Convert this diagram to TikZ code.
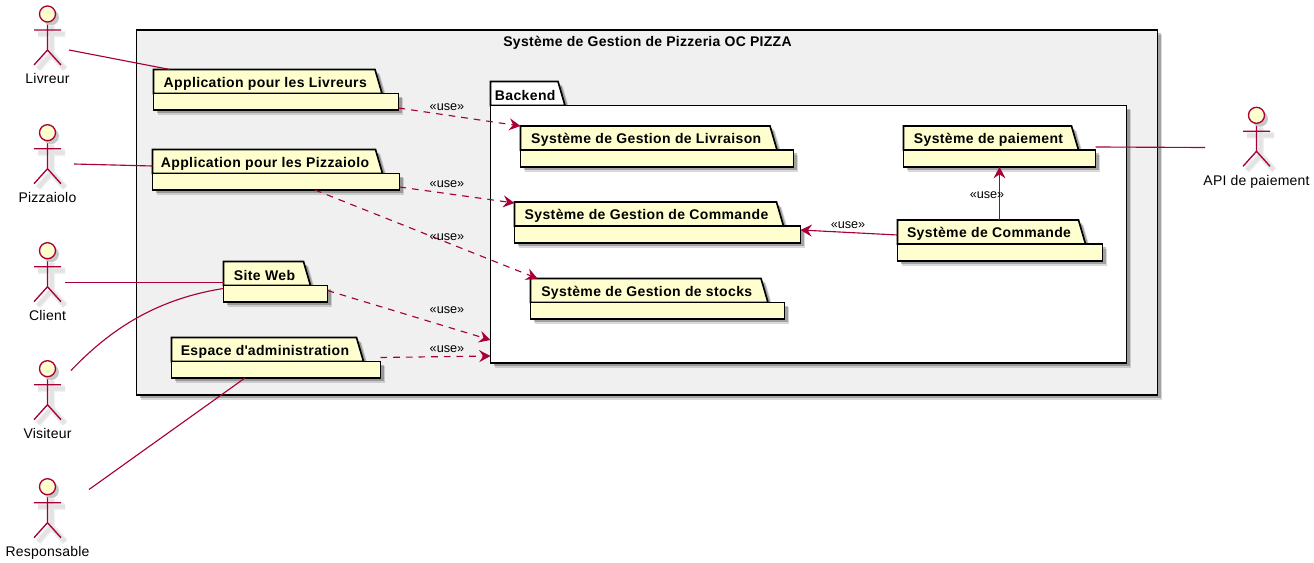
\documentclass[tikz,border=0pt]{standalone}
\usepackage{fontspec}
\setmainfont{Liberation Sans}
\usetikzlibrary{arrows.meta,shadows}
\definecolor{umlred}{HTML}{A80036}
\definecolor{umlyellow}{HTML}{FEFECE}
\definecolor{umlgrey}{HTML}{F0F0F0}
\tikzset{
    softshadow/.style={general shadow={shadow xshift=3.6pt,shadow yshift=-3.6pt,fill=black,opacity=.15},general shadow={shadow xshift=2.6pt,shadow yshift=-2.6pt,fill=black,opacity=.25}},
    pkgshape/.style={draw=black,line width=1.25pt,fill=#1,softshadow,line join=miter,outer sep=0pt},
    pkgshape/.default=umlyellow,
    pkgtab/.style={inner sep=0pt,outer sep=0pt,font=\fontsize{10.5}{12}\bfseries\addfontfeature{LetterSpace=2.7}},
    actorline/.style={draw=umlred,line width=1pt},
    actorshadow/.style={draw=black!11,line width=3pt,preaction={draw=black!6,line width=5pt}},
    actorname/.style={inner sep=0pt,anchor=base,font=\fontsize{10.5}{12}\selectfont\addfontfeature{LetterSpace=1.5}},
    uselabel/.style={inner sep=0pt,font=\fontsize{9.5}{11}\selectfont},
    uselink/.style={draw=umlred,line width=.85pt,-{Stealth[length=8.5pt,width=9pt,inset=3pt]}},
    dashedlink/.style={uselink,dash pattern=on 5pt off 4.5pt},
    assoc/.style={draw=umlred,line width=.85pt}
}
\newcommand{\package}[8][umlyellow]{%
    \path[pkgshape=#1] (#3,#4) -- (#5,#4) -- (#5+7,#4+24) -- (#3,#4+24) -- cycle;
    \node[pkgshape=#1,inner sep=0pt,anchor=north west,minimum width={(#6-#3)*0.75pt},minimum height={(#7-#4-24)*0.75pt}] (#2) at (#3,#4+24) {};
    \node[pkgtab,minimum width={(#5-#3+2)*0.75pt},minimum height=19.5pt,anchor=north west] (#2Tab) at (#3,#4+1) {#8};
}
\newcommand{\actor}[4]{%
    \draw[actorshadow] (#2+4,#3+12) -- (#2+4,#3+40) (#2-9.5,#3+20) -- (#2+17.5,#3+20) (#2-9.5,#3+55) -- (#2+4,#3+40) -- (#2+17.5,#3+55);
    \draw[actorline] (#2,#3+8) -- (#2,#3+36) (#2-13.5,#3+16) -- (#2+13.5,#3+16) (#2-13.5,#3+51) -- (#2,#3+36) -- (#2+13.5,#3+51);
    \node[draw=umlred,line width=1pt,fill=umlyellow,circle,minimum size=12pt,inner sep=0pt,outer sep=0pt,general shadow={shadow xshift=2.6pt,shadow yshift=-2.6pt,fill=black!22}] (#1) at (#2,#3) {};
    \node[actorname] (#1Label) at (#2,#3+70) {#4};
}
\begin{document}
\begin{tikzpicture}[x=0.75pt,y=-0.75pt]
    \useasboundingbox (0,0) rectangle (1314,563);

    \node[pkgshape=umlgrey,inner sep=0pt,anchor=north west,minimum width=765.75pt,minimum height=273.75pt] (gestion) at (136.5,30) {};
    \node[inner sep=0pt,font=\fontsize{10.5}{12}\bfseries\addfontfeature{LetterSpace=2}] (gestionTitle) at (647.5,43) {Système de Gestion de Pizzeria OC PIZZA};

    \package[white]{backend}{490.5}{81.5}{558}{1126.5}{363}{Backend}

    \actor{livreur}{47.5}{14}{Livreur}
    \actor{pizzaiolo}{47.5}{132.7}{Pizzaiolo}
    \actor{client}{47.5}{250.7}{Client}
    \actor{visiteur}{47.5}{368.7}{Visiteur}
    \actor{responsable}{47.5}{486.7}{Responsable}
    \actor{api}{1256.5}{115.3}{API de paiement}

    \coordinate (livreurEnd) at (69,50);
    \coordinate (pizzaioloEnd) at (74,164);
    \coordinate (clientEnd) at (65,282.5);
    \coordinate (visiteurEnd) at (71,370.5);
    \coordinate (responsableEnd) at (89,489.5);
    \coordinate (apiEnd) at (1205,147.5);

    \package{appLivreurs}{153.5}{69.5}{375}{398.5}{110}{Application pour les Livreurs}
    \package{appPizzaiolo}{152.5}{149.5}{375.5}{399.5}{190}{Application pour les Pizzaiolo}
    \package{siteWeb}{223.5}{261.5}{303.5}{327.5}{302}{Site Web}
    \package{espaceAdmin}{171.5}{337.5}{356.5}{380.5}{378}{Espace d\textquotesingle administration}
    \package{livraison}{520.5}{126}{770}{793.5}{167}{Système de Gestion de Livraison}
    \package{gestCommande}{514.5}{202}{776.5}{800.5}{243}{Système de Gestion de Commande}
    \package{stocks}{530.5}{278.5}{761}{784.5}{319}{Système de Gestion de stocks}
    \package{paiement}{903.5}{126}{1071.5}{1095.5}{167}{Système de paiement}
    \package{commande}{897.5}{220}{1078.5}{1102.5}{261}{Système de Commande}

    \draw[assoc] (livreurEnd) -- ([shift={(16.5,-1)}]appLivreursTab.north west);
    \draw[assoc] (pizzaioloEnd) -- ([shift={(0,15.5)}]appPizzaioloTab.north west);
    \draw[assoc] (clientEnd) -- ([shift={(0,20)}]siteWebTab.north west);
    \draw[assoc] (visiteurEnd) .. controls (105,335) and (150,300) .. ([shift={(0,3)}]siteWeb.north west);
    \draw[assoc] (responsableEnd) -- ([shift={(73.5,0)}]espaceAdmin.south west);
    \draw[assoc] ([shift={(0,-3)}]paiement.north east) -- (apiEnd);

    \draw[dashedlink] ([shift={(0,-2)}]appLivreurs.south east) -- ([shift={(0,-1)}]livraisonTab.north west);
    \draw[dashedlink] ([shift={(0,-3)}]appPizzaiolo.south east) -- (gestCommandeTab.north west);
    \draw[dashedlink] ([shift={(162.5,0)}]appPizzaiolo.south west) -- ([shift={(7,-1)}]stocksTab.north west);
    \draw[dashedlink] ([shift={(0,5)}]siteWeb.north east) -- ([shift={(0,-23)}]backend.south west);
    \draw[dashedlink] ([shift={(0,-4)}]espaceAdmin.north east) -- ([shift={(0,-7)}]backend.south west);
    \draw[uselink] ([shift={(0,14)}]commandeTab.north west) -- ([shift={(0,4)}]gestCommande.north east);
    \draw[uselink] ([shift={(102,-1)}]commandeTab.north west) -- ([shift={(96,0)}]paiement.south west);

    \node[uselabel] (useLivraison) at (447,107) {«use»};
    \node[uselabel] (useCommande) at (447,184.5) {«use»};
    \node[uselabel] (useStocks) at (447,237.5) {«use»};
    \node[uselabel] (useSite) at (447,310) {«use»};
    \node[uselabel] (useEspace) at (447,349) {«use»};
    \node[uselabel] (useGestion) at (848,225.5) {«use»};
    \node[uselabel] (usePaiement) at (987,195) {«use»};
\end{tikzpicture}
\end{document}
